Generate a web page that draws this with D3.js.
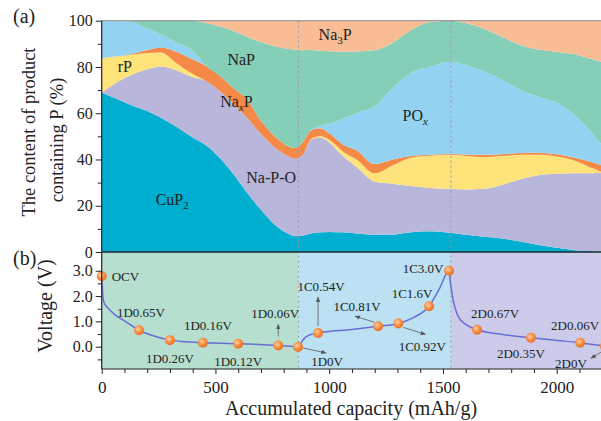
<!DOCTYPE html>
<html>
<head>
<meta charset="utf-8">
<script src="https://cdn.jsdelivr.net/npm/d3@7"></script>
<style>
  body { margin: 0; background: #fff; }
  svg { display: block; font-family: "Liberation Serif", "Times New Roman", serif; }
</style>
</head>
<body>
<div id="chart"></div>
<script>
// ######################## Data #############################################
// (a) share of each P-containing product (%) at each accumulated capacity (mAh/g)
const capacity = [0, 60, 130, 200, 260, 330, 400, 460, 520, 580, 640, 700, 760, 810, 850, 880, 920, 960, 1000, 1060, 1120, 1200, 1280, 1360, 1440, 1530, 1600, 1680, 1760, 1840, 1920, 2000, 2080, 2150, 2200]
const cuP2 = [69, 66.5, 63.5, 61, 58, 54, 49.5, 46, 40.5, 33.5, 25.5, 18.3, 11.9, 8.4, 6.8, 7, 8, 8.5, 8.7, 8.5, 8, 7.5, 7.5, 8.5, 9, 8.3, 7.5, 6.6, 5.8, 4.5, 3, 1.8, 0.8, 0.3, 0]
const naPO = [0, 6.5, 13, 18, 22.2, 24.5, 26, 27.9, 29, 30.4, 32.4, 32.7, 33.4, 33.5, 33.5, 34.5, 40.5, 41, 38.8, 33, 28.8, 23, 22, 20, 18.7, 19, 19.5, 20.7, 23.2, 27, 30.2, 32, 33.2, 33.8, 34.2]
const rP = [14.8, 11.5, 8.8, 7, 6.1, 3, 1.5, 0, 0, 0, 0, 0, 0, 0, 0, 0, 0.3, 0.5, 1, 2, 3.2, 3.5, 8, 12.3, 13.9, 14.7, 14.5, 13.7, 12.5, 10.5, 8.8, 7.5, 5.5, 2.4, 0.3]
const naxP = [0, 0, 0.3, 1.3, 2.1, 5, 6.3, 6.4, 6.6, 6.9, 7.9, 5.7, 4.8, 4.3, 4.7, 5.5, 3.7, 3.5, 2.8, 3, 4, 4, 2.5, 0.7, 0.4, 0.4, 0.7, 1, 0.8, 0.8, 0.9, 1, 1.3, 2.5, 3]
const pox = [16.2, 15.5, 13.9, 9.2, 5.6, 4, 3.7, 0, 0, 0, 0, 0, 0, 0, 0, 0, 0.3, 1, 4.2, 11, 16, 25, 31, 36, 38, 39.9, 38.8, 36, 32.2, 27.2, 24.1, 22.2, 18.2, 13, 8.5]
const naP = [0, 0, 0.5, 3.5, 6, 9.5, 13, 18.7, 21.4, 24.7, 27.2, 34.1, 38.9, 41.8, 42.5, 40.2, 34.5, 32.5, 31.3, 29.1, 26.7, 24.2, 19.5, 18.5, 19.3, 17.7, 18, 18.5, 18.5, 19.5, 20.5, 22, 26.5, 31.5, 36]
const na3P = [0, 0, 0, 0, 0, 0, 0, 1, 2.5, 4.5, 7, 9.2, 11, 12, 12.5, 12.8, 12.7, 13, 13.2, 13.4, 13.3, 12.8, 9.5, 4, 0.7, 0, 1, 3.5, 7, 10.5, 12.5, 13.5, 14.5, 16.5, 18]

const layerKeys = ["CuP2", "NaPO", "rP", "NaxP", "POx", "NaP", "Na3P"]
const layerColors = ["#00AECF", "#B8B7DB", "#FEE27A", "#F58A48", "#93D2F0", "#85CEB7", "#F9BD95"]

// (b) voltage profile
const curveCap = [0, 3, 7, 20, 36, 60, 94, 164, 230, 300, 370, 445, 520, 600, 690, 776, 830, 863, 870, 880, 894, 915, 951, 1100, 1215, 1304, 1370, 1439, 1485, 1527, 1533, 1545, 1567, 1604, 1650, 1750, 1887, 2000, 2103, 2200]
const curveVolt = [2.78, 2.3, 1.84, 1.6, 1.45, 1.25, 1.06, 0.65, 0.42, 0.26, 0.2, 0.16, 0.14, 0.12, 0.09, 0.05, 0.02, -0.01, 0.05, 0.2, 0.36, 0.47, 0.54, 0.68, 0.81, 0.92, 1.15, 1.6, 2.3, 3.0, 2.5, 1.84, 1.2, 0.86, 0.67, 0.5, 0.35, 0.25, 0.16, 0.04]

const pointCap = [0, 164, 300, 445, 600, 776, 863, 951, 1215, 1304, 1439, 1527, 1650, 1887, 2103, 2212]
const pointVolt = [2.78, 0.65, 0.26, 0.16, 0.12, 0.05, -0.01, 0.54, 0.81, 0.92, 1.6, 3.0, 0.67, 0.35, 0.16, 0.02]
const pointLabels = ["OCV", "1D0.65V", "1D0.26V", "1D0.16V", "1D0.12V", "1D0.06V", "1D0V", "1C0.54V", "1C0.81V", "1C0.92V", "1C1.6V", "1C3.0V", "2D0.67V", "2D0.35V", "2D0.06V", "2D0V"]

const phaseEdges = [0, 865, 1535, 2200]
const phaseColors = ["#B7DFCF", "#BBE1F3", "#CCCCEA"]

// ######################## Layout ###########################################
const W = 601, H = 421
const left = 101.7, right = 602.2
const topY = 20.7, midY = 252, botY = 369

// label offsets from their dot (px), arrows as [x1, y1, x2, y2] from the dot
const labelLayout = [
    { dx: 10, dy: 5, anchor: "start" },
    { dx: 2, dy: -13 },
    { dx: 0, dy: 23 },
    { dx: 5, dy: -13 },
    { dx: 0, dy: 22 },
    { dx: -3, dy: -27, arrow: [0, -9, 0, -21] },
    { dx: 29, dy: 19, arrow: [5, 1, 28, 6] },
    { dx: 3, dy: -42, arrow: [0, -7, 0, -36] },
    { dx: -21, dy: -15, arrow: [-4, -4, -23, -10] },
    { dx: 24, dy: 28, arrow: [5, 4, 27, 11] },
    { dx: -17, dy: -8 },
    { dx: -26, dy: 2 },
    { dx: 18, dy: -12 },
    { dx: -10, dy: 20 },
    { dx: -5, dy: -13 },
    { dx: -34, dy: 22, arrow: [-4, 6, -14, 12] },
]

const svg = d3.select("#chart")
    .append("svg")
    .attr("width", W)
    .attr("height", H)

svg.append("rect").attr("width", W).attr("height", H).attr("fill", "#fff")

const defs = svg.append("defs")
defs.append("clipPath").attr("id", "clipTop")
    .append("rect").attr("x", left).attr("y", topY).attr("width", right - left).attr("height", midY - topY)
defs.append("clipPath").attr("id", "clipBot")
    .append("rect").attr("x", left).attr("y", midY).attr("width", right - left).attr("height", botY - midY)

const grad = defs.append("radialGradient").attr("id", "dotGrad")
    .attr("cx", "40%").attr("cy", "38%").attr("r", "62%")
grad.append("stop").attr("offset", "0%").attr("stop-color", "#FFD3A8")
grad.append("stop").attr("offset", "55%").attr("stop-color", "#F68F45")
grad.append("stop").attr("offset", "100%").attr("stop-color", "#E8702A")

defs.append("marker").attr("id", "arrowHead")
    .attr("viewBox", "0 0 10 10").attr("refX", 9).attr("refY", 5)
    .attr("markerWidth", 6).attr("markerHeight", 6).attr("orient", "auto")
    .append("path").attr("d", "M0,1L10,5L0,9Z").attr("fill", "#555")

const x = d3.scaleLinear().domain([0, 2200]).range([left, right])
const yTop = d3.scaleLinear().domain([0, 100]).range([midY, topY])
const yBot = d3.scaleLinear().domain([-0.88, 3.74]).range([botY, midY])

// ######################## (a) stacked areas ################################
const table = capacity.map((c, i) => ({
    c,
    CuP2: cuP2[i], NaPO: naPO[i], rP: rP[i], NaxP: naxP[i],
    POx: pox[i], NaP: naP[i], Na3P: na3P[i]
}))
const series = d3.stack().keys(layerKeys)(table)

const area = d3.area()
    .x(d => x(d.data.c))
    .y0(d => yTop(d[0]))
    .y1(d => yTop(d[1]))
    .curve(d3.curveMonotoneX)

svg.append("g").attr("clip-path", "url(#clipTop)")
    .selectAll("path")
    .data(series)
    .join("path")
    .attr("fill", (d, i) => layerColors[i])
    .attr("d", area)

// ######################## (b) phase backgrounds ############################
svg.append("g").attr("clip-path", "url(#clipBot)")
    .selectAll("rect")
    .data(phaseColors)
    .join("rect")
    .attr("x", (d, i) => x(phaseEdges[i]))
    .attr("width", (d, i) => x(phaseEdges[i + 1]) - x(phaseEdges[i]))
    .attr("y", midY)
    .attr("height", botY - midY)
    .attr("fill", d => d)

// dotted separators
svg.append("g").selectAll("line")
    .data(phaseEdges.slice(1, 3))
    .join("line")
    .attr("x1", d => x(d)).attr("x2", d => x(d))
    .attr("y1", topY).attr("y2", botY)
    .attr("stroke", "#9a9aa8")
    .attr("stroke-width", 1)
    .attr("stroke-dasharray", "2,3")

// voltage curve
const line = d3.line()
    .x((d, i) => x(curveCap[i]))
    .y(d => yBot(d))
    .curve(d3.curveMonotoneX)

const gb = svg.append("g").attr("clip-path", "url(#clipBot)")
gb.append("path")
    .datum(curveVolt)
    .attr("fill", "none")
    .attr("stroke", "#6A6ED4")
    .attr("stroke-width", 1.5)
    .attr("d", line)

// arrows + labels
const ann = svg.append("g").attr("font-size", 13).attr("fill", "#222")
pointLabels.forEach((t, i) => {
    const px = x(pointCap[i]), py = yBot(pointVolt[i])
    const L = labelLayout[i]
    if (L.arrow) {
        ann.append("line")
            .attr("x1", px + L.arrow[0]).attr("y1", py + L.arrow[1])
            .attr("x2", px + L.arrow[2]).attr("y2", py + L.arrow[3])
            .attr("stroke", "#666").attr("stroke-width", 0.9)
            .attr("marker-end", "url(#arrowHead)")
    }
    ann.append("text")
        .attr("x", px + L.dx).attr("y", py + L.dy)
        .attr("text-anchor", L.anchor || "middle")
        .text(t)
})

svg.append("g")
    .selectAll("circle")
    .data(pointVolt)
    .join("circle")
    .attr("cx", (d, i) => x(pointCap[i]))
    .attr("cy", d => yBot(d))
    .attr("r", 5)
    .attr("fill", "url(#dotGrad)")

// ######################## layer names ######################################
const layerNames = [
    { c: 102, v: 78, parts: [["rP"]] },
    { c: 613, v: 81, parts: [["NaP"]] },
    { c: 592, v: 62.8, parts: [["Na"], ["x", "sub", true], ["P"]] },
    { c: 1026, v: 91.8, parts: [["Na"], ["3", "sub"], ["P"]] },
    { c: 1378, v: 56.7, parts: [["PO"], ["x", "sub", true]] },
    { c: 310, v: 20.3, parts: [["CuP"], ["2", "sub"]] },
    { c: 745, v: 29.9, parts: [["Na-P-O"]] },
]
layerNames.forEach(n => {
    const t = svg.append("text")
        .attr("x", x(n.c)).attr("y", yTop(n.v))
        .attr("text-anchor", "middle")
        .attr("font-size", 16).attr("fill", "#222")
    n.parts.forEach(p => {
        const s = t.append("tspan").text(p[0])
        if (p[1] === "sub") {
            s.attr("font-size", 11).attr("dy", 4)
            if (p[2]) s.attr("font-style", "italic")
        } else if (t.selectAll("tspan").size() > 1) {
            s.attr("dy", -4)
        }
    })
})

// ######################## axes #############################################
function styleAxis(g, size) {
    g.selectAll("path.domain").remove()
    g.selectAll("line").attr("stroke", "#222")
    g.selectAll("text").attr("font-size", size).attr("fill", "#222")
        .attr("font-family", "Liberation Serif, Times New Roman, serif")
}

// frame lines
svg.append("line").attr("x1", left).attr("x2", W).attr("y1", topY).attr("y2", topY)
    .attr("stroke", "#888").attr("stroke-width", 1)
svg.append("line").attr("x1", left).attr("x2", W).attr("y1", midY).attr("y2", midY)
    .attr("stroke", "#1a2a35").attr("stroke-width", 1.4)
svg.append("line").attr("x1", left).attr("x2", W).attr("y1", botY).attr("y2", botY)
    .attr("stroke", "#222").attr("stroke-width", 1.2)
svg.append("line").attr("x1", left).attr("x2", left).attr("y1", topY).attr("y2", botY)
    .attr("stroke", "#222").attr("stroke-width", 1.2)

// top y axis
svg.append("g").attr("transform", `translate(${left},0)`)
    .call(d3.axisLeft(yTop).tickValues([10, 30, 50, 70, 90]).tickSize(4).tickFormat(""))
    .call(g => styleAxis(g, 16))
svg.append("g").attr("transform", `translate(${left},0)`)
    .call(d3.axisLeft(yTop).tickValues([0, 20, 40, 60, 80, 100]).tickSize(6).tickPadding(3))
    .call(g => styleAxis(g, 16))

// bottom y axis
svg.append("g").attr("transform", `translate(${left},0)`)
    .call(d3.axisLeft(yBot).tickValues([-0.5, 0.5, 1.5, 2.5]).tickSize(4).tickFormat(""))
    .call(g => styleAxis(g, 16))
svg.append("g").attr("transform", `translate(${left},0)`)
    .call(d3.axisLeft(yBot).tickValues([0, 1, 2, 3]).tickSize(6).tickPadding(3).tickFormat(d3.format(".1f")))
    .call(g => styleAxis(g, 16))

// x axis
svg.append("g").attr("transform", `translate(0,${botY})`)
    .call(d3.axisBottom(x).tickValues(d3.range(100, 2200, 100).filter(d => d % 500)).tickSize(4).tickFormat(""))
    .call(g => styleAxis(g, 17))
svg.append("g").attr("transform", `translate(0,${botY})`)
    .call(d3.axisBottom(x).tickValues([0, 500, 1000, 1500, 2000]).tickSize(5).tickPadding(7).tickFormat(d3.format("d")))
    .call(g => styleAxis(g, 17))

// titles
svg.append("text").attr("x", 351).attr("y", 415).attr("text-anchor", "middle")
    .attr("font-size", 20).attr("fill", "#222").text("Accumulated capacity (mAh/g)")
svg.append("text").attr("transform", "translate(35,132) rotate(-90)").attr("text-anchor", "middle")
    .attr("font-size", 18.5).attr("fill", "#222").text("The content of product")
svg.append("text").attr("transform", "translate(63,140) rotate(-90)").attr("text-anchor", "middle")
    .attr("font-size", 18.5).attr("fill", "#222").text("containing P (%)")
svg.append("text").attr("transform", "translate(52,306) rotate(-90)").attr("text-anchor", "middle")
    .attr("font-size", 20).attr("fill", "#222").text("Voltage (V)")
svg.append("text").attr("x", 13).attr("y", 23).attr("font-size", 20).attr("fill", "#222").text("(a)")
svg.append("text").attr("x", 13).attr("y", 265).attr("font-size", 20).attr("fill", "#222").text("(b)")
</script>
</body>
</html>
